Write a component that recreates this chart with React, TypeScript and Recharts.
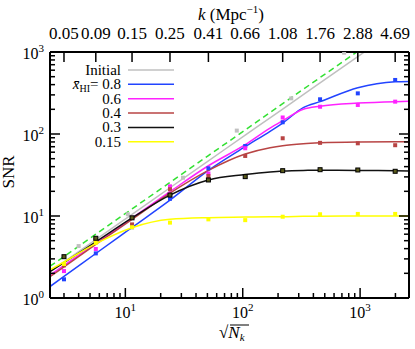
import { ComposedChart, Legend, Line, Scatter, XAxis, YAxis } from "recharts"

// fitted curves, sampled along sqrt(N_k)
const curveX = [2.28, 3, 5.6, 11.4, 24, 51, 105, 171, 219, 328, 456, 956, 1990, 2610]
const initialCurve = [2.1, 2.76, 5.15, 10.5, 22.1, 47, 97, 157, 201, 302, 420, 880, 1830, 2400]
const guideCurve = [2.44, 3.2, 6.0, 12.2, 25.7, 54.6, 112, 183, 234, 351, 488, 1020, 2130, 2790]
const curve08 = [1.38, 1.83, 3.49, 7.25, 15.6, 36, 70, 108, 136, 210, 248, 367, 434, 438]
const curve06 = [1.9, 2.5, 4.6, 9.4, 19.8, 41, 74, 118, 145, 200, 218, 238, 248, 250]
const curve04 = [1.82, 2.4, 4.5, 9.1, 19, 36, 57, 68, 72, 76, 78, 80, 80.5, 80.5]
const curve03 = [2.1, 2.7, 4.85, 9.5, 18, 27.5, 32, 34.5, 35.4, 36, 36.1, 36, 35.6, 35.4]
const curve015 = [2.2, 2.75, 4.6, 7.2, 9.1, 9.55, 9.7, 9.8, 9.8, 9.9, 9.95, 10, 10, 10]

// measured points
const pointX = [3, 5.6, 11.4, 24, 51, 105, 219, 456, 956, 1990]
const points08 = [1.69, 3.5, 7.3, 16.2, 38.2, 71.4, 139, 265, 313, 456]
const points06 = [2.13, 3.96, 9.5, 23, 33, 67, 159, 215, 226, 248]
const points04 = [2.5, 5.1, 7.9, 21.2, 30.7, 54, 88.7, 78, 77, 73]
const points03 = [3.19, 5.35, 9.5, 18.0, 27.5, 30.2, 35.7, 36.7, 36.4, 35.1]
const points015 = [2.6, 4.7, 7.3, 8.3, 9.1, 8.9, 9.8, 10.5, 10.6, 10.6]
const initialX = [4, 10.5, 31, 89, 259, 731]
const initialPoints = [4.3, 10.5, 29.3, 110, 272, 980]

const kLabels = ["0.05", "0.09", "0.15", "0.25", "0.41", "0.66", "1.08", "1.76", "2.88", "4.69"]
const seriesNames = ["Initial", "0.8", "0.6", "0.4", "0.3", "0.15"]
const xTicks = [3, 4, 5, 6, 7, 8, 9, 10, 20, 30, 40, 50, 60, 70, 80, 90, 100, 200, 300, 400, 500, 600, 700, 800, 900, 1000, 2000]
const yTicks = [1, 2, 3, 4, 5, 6, 7, 8, 9, 10, 20, 30, 40, 50, 60, 70, 80, 90, 100, 200, 300, 400, 500, 600, 700, 800, 900, 1000]

const COLORS = ["#c0c0c0", "#2244ff", "#ff22ff", "#b84444", "#111111", "#ffff00"]
const GREEN = "#33e033"
const FONT = "'Liberation Serif', 'Times New Roman', serif"

const W = 415
const H = 349
const LEFT = 50
const RIGHT = 409
const TOP = 52
const BOTTOM = 298

const table = curveX.map((x, i) => ({
  x,
  initial: initialCurve[i],
  guide: guideCurve[i],
  c08: curve08[i],
  c06: curve06[i],
  c04: curve04[i],
  c03: curve03[i],
  c015: curve015[i],
}))
const lineKeys = ["initial", "c08", "c06", "c04", "c03", "c015"]
const pointSets = [
  initialX.map((x, i) => ({ x, y: initialPoints[i] })),
  ...[points08, points06, points04, points03, points015].map((p) => pointX.map((x, i) => ({ x, y: p[i] }))),
]

const isMajor = (v: number) => Math.abs(Math.log10(v) - Math.round(Math.log10(v))) < 1e-6

function Pow({ x, y, exp, anchor }: { x: number; y: number; exp: number; anchor: string }) {
  return (
    <text x={x} y={y} textAnchor={anchor} fontFamily={FONT} fontSize={16} fill="#000">
      10
      <tspan dy={-7} fontSize={11}>
        {exp}
      </tspan>
    </text>
  )
}

const BottomTick = (p: any) => {
  const v = p.payload.value
  const major = isMajor(v)
  return (
    <g>
      <line x1={p.x} x2={p.x} y1={BOTTOM} y2={BOTTOM - (major ? 10 : 5)} stroke="#000" strokeWidth={1.5} />
      {major && <Pow x={p.x} y={318} exp={Math.round(Math.log10(v))} anchor="middle" />}
    </g>
  )
}

const TopTick = (p: any) => (
  <g>
    <line x1={p.x} x2={p.x} y1={TOP} y2={TOP + 10} stroke="#000" strokeWidth={1.5} />
    <text x={p.x} y={39} textAnchor="middle" fontFamily={FONT} fontSize={17} fill="#000">
      {kLabels[p.index]}
    </text>
  </g>
)

const LeftTick = (p: any) => {
  const v = p.payload.value
  const major = isMajor(v)
  return (
    <g>
      <line x1={LEFT} x2={LEFT + (major ? 10 : 5)} y1={p.y} y2={p.y} stroke="#000" strokeWidth={1.5} />
      {major && <Pow x={44} y={p.y + 7} exp={Math.round(Math.log10(v))} anchor="end" />}
    </g>
  )
}

const RightTick = (p: any) => {
  const major = isMajor(p.payload.value)
  return <line x1={RIGHT} x2={RIGHT - (major ? 10 : 5)} y1={p.y} y2={p.y} stroke="#000" strokeWidth={1.5} />
}

const square = (fill: string, stroke?: string) => (p: any) =>
  <rect x={p.cx - 2} y={p.cy - 2} width={4} height={4} fill={fill} stroke={stroke ?? "none"} strokeWidth={stroke ? 1 : 0} />

function LegendBox() {
  return (
    <svg width={W} height={H} style={{ display: "block" }}>
      {seriesNames.map((name, i) => {
        const cy = 70 + i * 14.35
        return (
          <g key={name}>
            <text x={121} y={cy + 5} textAnchor="end" fontFamily={FONT} fontSize={15} fill="#000">
              {i === 1 && (
                <>
                  <tspan fontStyle="italic">{"x\u0304"}</tspan>
                  <tspan dy={3} fontSize={10}>HI</tspan>
                  <tspan dy={-3}>{"= "}</tspan>
                </>
              )}
              {name}
            </text>
            <line x1={128} x2={174} y1={cy} y2={cy} stroke={COLORS[i]} strokeWidth={1.5} />
          </g>
        )
      })}
      <text x={231} y={20} textAnchor="middle" fontFamily={FONT} fontSize={17} fill="#000">
        <tspan fontStyle="italic">k</tspan>
        {" (Mpc"}
        <tspan dy={-7} fontSize={11}>−1</tspan>
        <tspan dy={7}>)</tspan>
      </text>
      <text x={14} y={172} transform="rotate(-90 14 172)" textAnchor="middle" fontFamily={FONT} fontSize={17} fill="#000">
        SNR
      </text>
      <text x={219} y={338} fontFamily={FONT} fontSize={17} fill="#000">
        √<tspan fontStyle="italic">N</tspan>
        <tspan dy={3} fontSize={11} fontStyle="italic">k</tspan>
      </text>
      <line x1={230} x2={249} y1={325} y2={325} stroke="#000" strokeWidth={1} />
    </svg>
  )
}

export default function App() {
  return (
    <div style={{ position: "absolute", left: 0, top: 0 }}>
      <ComposedChart width={W} height={H} data={table} margin={{ top: 0, right: 0, bottom: 0, left: 0 }}>
        <XAxis
          xAxisId="b"
          dataKey="x"
          type="number"
          scale="log"
          domain={[2.28, 2610]}
          allowDataOverflow
          ticks={xTicks}
          interval={0}
          height={H - BOTTOM}
          tickSize={0}
          tickLine={false}
          axisLine={{ stroke: "#000", strokeWidth: 2 }}
          tick={BottomTick}
        />
        <XAxis
          xAxisId="t"
          dataKey="x"
          orientation="top"
          type="number"
          scale="log"
          domain={[2.28, 2610]}
          allowDataOverflow
          ticks={pointX}
          interval={0}
          height={TOP}
          tickSize={0}
          tickLine={false}
          axisLine={{ stroke: "#000", strokeWidth: 2 }}
          tick={TopTick}
        />
        <YAxis
          yAxisId="l"
          type="number"
          scale="log"
          domain={[1, 1000]}
          allowDataOverflow
          ticks={yTicks}
          interval={0}
          width={LEFT}
          tickSize={0}
          tickLine={false}
          axisLine={{ stroke: "#000", strokeWidth: 2 }}
          tick={LeftTick}
        />
        <YAxis
          yAxisId="r"
          orientation="right"
          type="number"
          scale="log"
          domain={[1, 1000]}
          allowDataOverflow
          ticks={yTicks}
          interval={0}
          width={W - RIGHT}
          tickSize={0}
          tickLine={false}
          axisLine={{ stroke: "#000", strokeWidth: 2 }}
          tick={RightTick}
        />
        {/* invisible series so the top (k) axis and right axis get a scale */}
        <Line
          xAxisId="t"
          yAxisId="r"
          dataKey="guide"
          stroke="none"
          dot={false}
          legendType="none"
          isAnimationActive={false}
        />
        <Line
          xAxisId="b"
          yAxisId="l"
          dataKey="guide"
          stroke={GREEN}
          strokeWidth={1.5}
          strokeDasharray="6 4"
          dot={false}
          legendType="none"
          isAnimationActive={false}
        />
        {lineKeys.map((k, i) => (
          <Line
            key={k}
            xAxisId="b"
            yAxisId="l"
            dataKey={k}
            name={seriesNames[i]}
            type="monotone"
            stroke={COLORS[i]}
            strokeWidth={1.5}
            dot={false}
            isAnimationActive={false}
          />
        ))}
        {pointSets.map((pts, i) => (
          <Scatter
            key={i}
            xAxisId="b"
            yAxisId="l"
            data={pts}
            dataKey="y"
            legendType="none"
            shape={i === 4 ? square("#5a5a1a", "#000") : square(COLORS[i])}
            isAnimationActive={false}
          />
        ))}
        <Legend
          layout="vertical"
          align="center"
          verticalAlign="middle"
          content={() => <LegendBox />}
          wrapperStyle={{ position: "absolute", left: 0, top: 0, width: W, height: H, pointerEvents: "none" }}
        />
      </ComposedChart>
    </div>
  )
}
